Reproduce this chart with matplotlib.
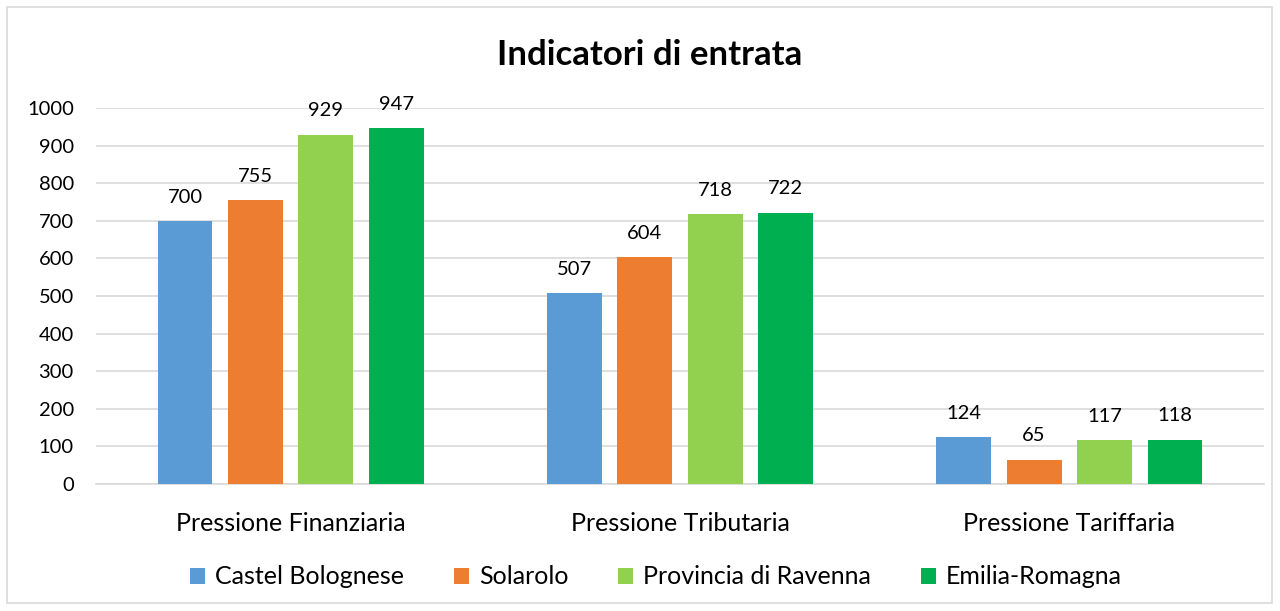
import matplotlib
matplotlib.use("Agg")
import matplotlib.pyplot as plt
import numpy as np
from matplotlib.patches import Rectangle

plt.rcParams['font.family'] = ['Lato', 'DejaVu Sans']

categories = ["Pressione Finanziaria", "Pressione Tributaria", "Pressione Tariffaria"]
series_names = ["Castel Bolognese", "Solarolo", "Provincia di Ravenna", "Emilia-Romagna"]
castel = [700, 507, 124]
solarolo = [755, 604, 65]
ravenna = [929, 718, 117]
emilia = [947, 722, 118]
colors = ["#5B9BD5", "#ED7D31", "#92D050", "#00B050"]
yticks = [0, 100, 200, 300, 400, 500, 600, 700, 800, 900, 1000]

fig = plt.figure(figsize=(12.8, 6.11), dpi=100)
ax = fig.add_axes([96/1280, 1-484/611, (1264-96)/1280, (484-108)/611])

x = np.arange(len(categories))
bw = 0.141
step = 0.181
for i, (vals, name, col) in enumerate(zip([castel, solarolo, ravenna, emilia], series_names, colors)):
    pos = x + (i - 1.5) * step
    bars = ax.bar(pos, vals, width=bw, color=col, label=name, zorder=3)
    for b, v in zip(bars, vals):
        ax.annotate(str(v), (b.get_x() + b.get_width()/2, v), xytext=(0, 11),
                    textcoords="offset points", ha="center", va="bottom",
                    fontsize=14.5, color="#000000")

ax.set_xlim(-0.5, 2.5)
ax.set_ylim(0, 1000)
ax.set_yticks(yticks)
ax.set_yticklabels([str(t) for t in yticks], fontsize=14.5)
ax.set_xticks(x)
ax.set_xticklabels(categories, fontsize=18)
ax.tick_params(axis='both', length=0, colors="#000000")
ax.tick_params(axis='y', pad=16)
ax.tick_params(axis='x', pad=20)
ax.grid(axis='y', color="#D9D9D9", linewidth=1.2, zorder=0)
for s in ["top", "right", "left"]:
    ax.spines[s].set_visible(False)
ax.spines["bottom"].set_color("#D9D9D9")
ax.spines["bottom"].set_linewidth(1.2)

fig.text(650/1280, 1-55/611, "Indicatori di entrata", ha="center", va="center",
         fontsize=25, fontweight="bold")

fig.legend(loc="center", bbox_to_anchor=(656/1280, 1-577/611), ncol=4, frameon=False,
           fontsize=18, handlelength=0.6, handleheight=0.6, handletextpad=0.4,
           columnspacing=2.0)

fig.patches.append(Rectangle((7/1280, 8/611), 1265/1280, 596/611, transform=fig.transFigure,
                             fill=False, edgecolor="#D9D9D9", linewidth=1.2))

fig.savefig("out.png", dpi=100)
